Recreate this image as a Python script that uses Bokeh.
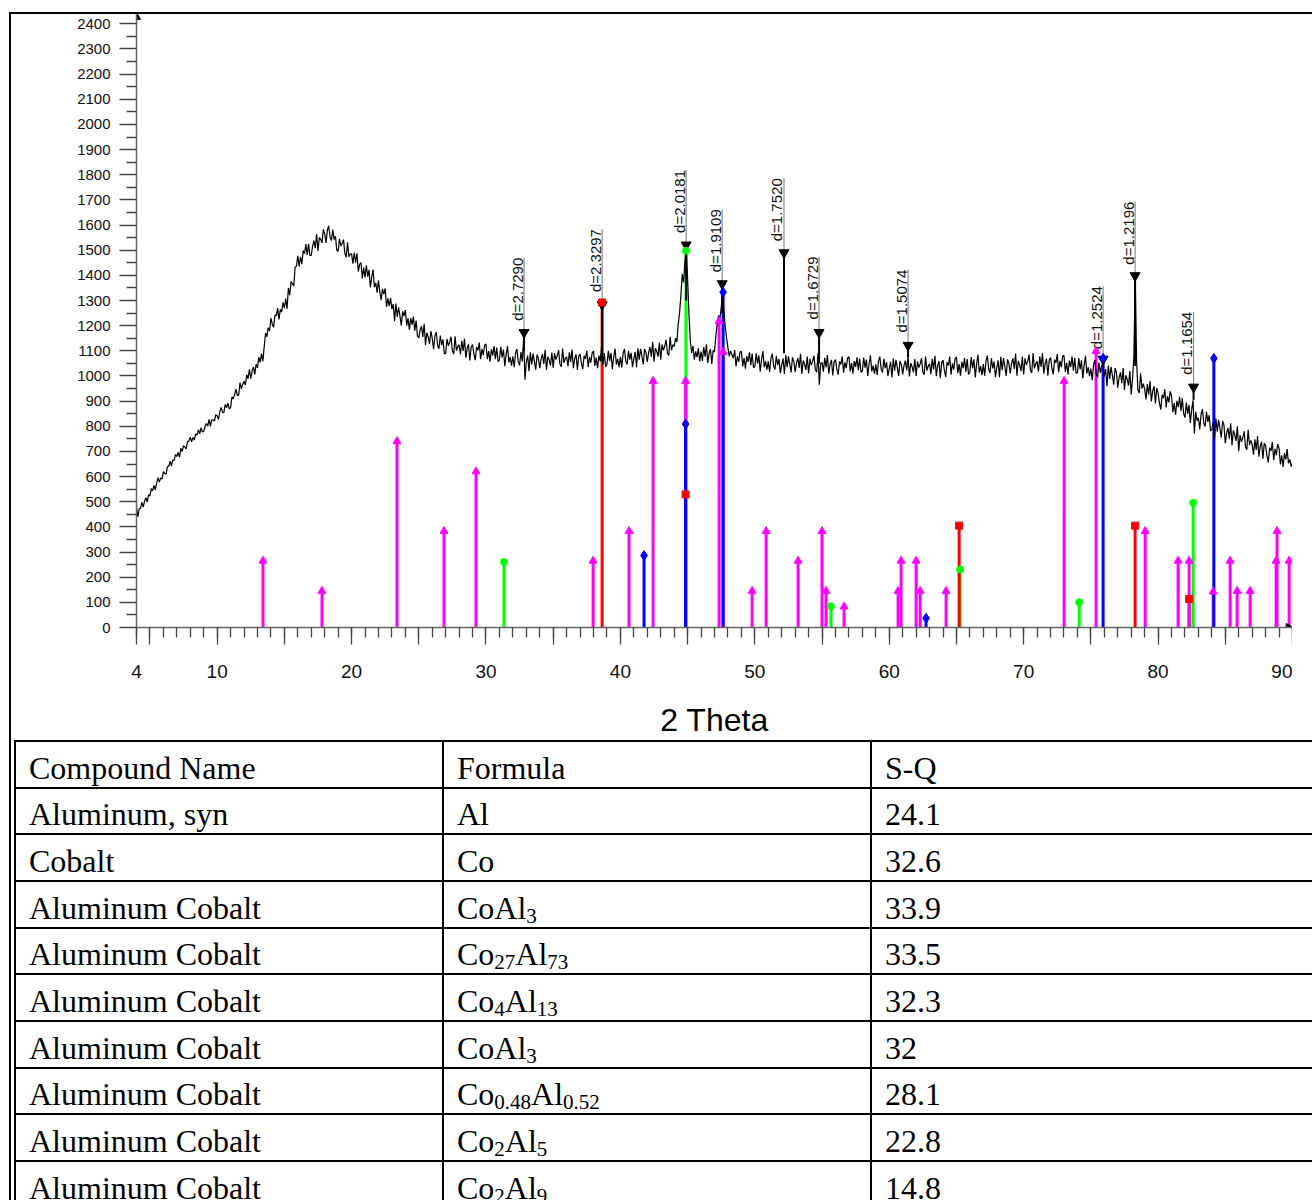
import numpy as np
from bokeh.plotting import figure
from bokeh.models import (Range1d, FixedTicker, CustomJSTickFormatter, ColumnDataSource,
                          Div, InlineStyleSheet)
from bokeh.layouts import column
from bokeh.embed import file_html
from bokeh.resources import INLINE
from bokeh.core.properties import value

# ---------------- data ----------------
scan_start = 4.0
scan_step = 0.1
counts = [
    478, 440, 472, 474, 498, 479, 502, 516, 499, 528,
    523, 552, 544, 565, 547, 574, 596, 578, 595, 590,
    620, 612, 610, 639, 641, 661, 642, 666, 664, 687,
    680, 696, 677, 713, 700, 723, 717, 710, 740, 740,
    757, 738, 756, 745, 770, 765, 786, 770, 794, 777,
    780, 800, 811, 801, 827, 800, 826, 825, 821, 846,
    842, 827, 859, 875, 855, 854, 887, 874, 892, 869,
    874, 917, 909, 926, 948, 923, 923, 974, 949, 966,
    979, 964, 1005, 989, 1026, 989, 1019, 1036, 1006, 1047,
    1032, 1075, 1054, 1089, 1058, 1117, 1171, 1156, 1192, 1179,
    1230, 1206, 1194, 1242, 1239, 1270, 1225, 1265, 1254, 1293,
    1270, 1308, 1267, 1350, 1321, 1375, 1367, 1358, 1432, 1436,
    1478, 1435, 1474, 1445, 1499, 1486, 1524, 1481, 1525, 1479,
    1479, 1516, 1538, 1508, 1564, 1497, 1550, 1544, 1529, 1583,
    1567, 1529, 1580, 1597, 1552, 1538, 1582, 1542, 1556, 1500,
    1496, 1545, 1517, 1527, 1542, 1488, 1472, 1531, 1474, 1485,
    1486, 1446, 1490, 1450, 1488, 1415, 1443, 1451, 1388, 1431,
    1392, 1440, 1395, 1422, 1352, 1395, 1423, 1353, 1370, 1331,
    1380, 1334, 1302, 1346, 1325, 1348, 1275, 1309, 1278, 1311,
    1266, 1286, 1219, 1288, 1235, 1273, 1238, 1201, 1257, 1238,
    1262, 1200, 1229, 1184, 1230, 1204, 1236, 1180, 1220, 1160,
    1151, 1183, 1198, 1155, 1207, 1123, 1172, 1155, 1128, 1178,
    1150, 1106, 1159, 1175, 1123, 1108, 1161, 1123, 1145, 1088,
    1090, 1147, 1120, 1134, 1156, 1099, 1087, 1158, 1101, 1117,
    1124, 1086, 1140, 1100, 1148, 1073, 1110, 1126, 1062, 1116,
    1125, 1087, 1063, 1115, 1102, 1133, 1067, 1107, 1083, 1122,
    1127, 1067, 1099, 1057, 1106, 1082, 1119, 1067, 1113, 1057,
    1064, 1116, 1074, 1105, 1039, 1086, 1119, 1054, 1075, 1041,
    1078, 1035, 1090, 1107, 1056, 1042, 1095, 1058, 1150, 985,
    1056, 1081, 1019, 1094, 1046, 1089, 1058, 1025, 1085, 1070,
    1031, 1067, 1087, 1048, 1104, 1024, 1077, 1063, 1041, 1093,
    1033, 1091, 1065, 1080, 1103, 1048, 1037, 1109, 1052, 1070,
    1076, 1039, 1094, 1056, 1105, 1031, 1069, 1086, 1024, 1079,
    1087, 1050, 1027, 1080, 1068, 1100, 1035, 1076, 1053, 1093,
    1099, 1040, 1073, 1031, 1081, 1058, 1120, 1045, 1091, 1036,
    1047, 1100, 1060, 1092, 1027, 1075, 1109, 1045, 1068, 1035,
    1076, 1034, 1090, 1108, 1058, 1046, 1100, 1065, 1092, 1035,
    1069, 1096, 1035, 1110, 1065, 1108, 1078, 1046, 1107, 1093,
    1056, 1094, 1115, 1077, 1135, 1057, 1110, 1098, 1077, 1132,
    1065, 1125, 1102, 1119, 1144, 1090, 1082, 1156, 1102, 1124,
    1118, 1150, 1135, 1205, 1250, 1320, 1405, 1372, 1460, 1500,
    1385, 1245, 1140, 1092, 1120, 1065, 1098, 1075, 1110, 1058,
    1097, 1060, 1115, 1077, 1126, 1052, 1090, 1107, 1048, 1102,
    1095, 1160, 1205, 1240, 1228, 1272, 1318, 1255, 1195, 1150,
    1112, 1078, 1100, 1083, 1071, 1103, 1038, 1079, 1056, 1096,
    1097, 1038, 1071, 1029, 1079, 1056, 1094, 1043, 1089, 1034,
    1037, 1090, 1050, 1082, 1017, 1065, 1099, 1035, 1058, 1025,
    1058, 1016, 1071, 1089, 1039, 1026, 1080, 1043, 1067, 1011,
    1044, 1070, 1008, 1083, 1035, 1078, 1047, 1014, 1074, 1059,
    1016, 1052, 1071, 1032, 1088, 1008, 1061, 1047, 1024, 1077,
    1010, 1068, 1043, 1058, 1081, 1026, 1015, 1090, 965, 1049,
    1054, 1017, 1072, 1034, 1083, 1009, 1047, 1064, 1002, 1057,
    1065, 1028, 1005, 1058, 1046, 1078, 1013, 1054, 1031, 1071,
    1077, 1018, 1051, 1009, 1059, 1036, 1074, 1023, 1069, 1014,
    1020, 1073, 1033, 1065, 1000, 1048, 1082, 1018, 1041, 1008,
    1046, 1004, 1059, 1077, 1027, 1014, 1068, 1031, 1055, 999,
    1030, 1056, 994, 1069, 1021, 1064, 1033, 1000, 1060, 1045,
    1006, 1042, 1061, 1022, 1078, 998, 1051, 1037, 1014, 1067,
    1000, 1058, 1033, 1048, 1071, 1016, 1005, 1077, 1021, 1039,
    1048, 1007, 1068, 1026, 1080, 999, 1041, 1059, 991, 1052,
    1063, 1022, 996, 1055, 1042, 1077, 1005, 1050, 1025, 1069,
    1076, 1011, 1047, 1001, 1056, 1031, 1072, 1016, 1067, 1006,
    1016, 1075, 1030, 1066, 994, 1047, 1084, 1014, 1039, 1003,
    1047, 1001, 1061, 1081, 1026, 1012, 1071, 1030, 1057, 995,
    1033, 1062, 994, 1076, 1023, 1071, 1037, 1000, 1066, 1050,
    1010, 1050, 1071, 1028, 1089, 1001, 1060, 1044, 1019, 1077,
    1006, 1070, 1043, 1059, 1085, 1024, 1012, 1091, 1030, 1049,
    1058, 1017, 1078, 1036, 1090, 1009, 1051, 1069, 1001, 1062,
    1073, 1032, 1006, 1065, 1052, 1087, 1015, 1060, 1035, 1079,
    1081, 1016, 1052, 1006, 1061, 1036, 1077, 1021, 1072, 1011,
    1012, 1071, 1026, 1062, 990, 1043, 1080, 1010, 1035, 999,
    1029, 983, 1043, 1063, 1008, 994, 1053, 1012, 1039, 1045,
    998, 1027, 959, 1041, 988, 1036, 1002, 965, 1031, 1015,
    953, 993, 1014, 971, 1032, 944, 1003, 987, 962, 1020,
    926, 990, 1080, 1390, 1060, 944, 932, 1011, 950, 969,
    948, 907, 968, 926, 980, 899, 941, 959, 891, 952,
    933, 892, 866, 925, 912, 947, 875, 920, 895, 939,
    921, 856, 892, 846, 901, 876, 917, 861, 912, 851,
    835, 894, 849, 885, 813, 866, 903, 770, 858, 822,
    834, 788, 848, 868, 813, 799, 858, 817, 844, 782,
    788, 817, 749, 831, 778, 826, 792, 755, 821, 805,
    733, 773, 794, 751, 812, 724, 783, 767, 742, 800,
    701, 765, 738, 754, 780, 719, 707, 786, 725, 744,
    728, 687, 748, 706, 760, 679, 721, 739, 671, 732,
    723, 682, 656, 715, 702, 737, 665, 710, 685, 729,
    713, 648, 684, 638, 693, 668, 709, 653, 668, 640,
    655,
]

# reference pattern sticks (2-theta, intensity)
magenta_theta = [13.41, 17.80, 23.38, 26.88, 29.26, 37.97, 40.64, 42.43, 44.85, 47.34,
                 47.64, 49.80, 50.84, 53.22, 55.00, 55.30, 56.64, 60.66, 60.88, 62.00,
                 62.30, 64.23, 73.01, 75.39, 79.04, 81.49, 82.31, 84.10, 85.36, 85.88,
                 86.85, 88.78, 88.85, 89.75]
magenta_int = [265, 145, 740, 383, 620, 265, 383, 980, 980, 1218,
               1095, 145, 383, 265, 383, 145, 83, 145, 265, 265,
               145, 145, 980, 1099, 383, 265, 265, 142, 265, 145,
               145, 265, 383, 265]
red_theta = [38.64, 44.85, 65.20, 78.29, 82.31]
red_int = [1292, 529, 405, 405, 113]
green_theta = [31.34, 44.88, 55.67, 65.27, 74.13, 82.61]
green_int = [260, 1498, 84, 231, 100, 496]
blue_theta = [41.76, 44.85, 47.64, 62.74, 75.91, 84.15]
blue_int = [286, 809, 1333, 37, 1070, 1070]

# peak-search labels
d_labels = ["d=2.7290", "d=2.3297", "d=2.0181", "d=1.9109", "d=1.7520",
            "d=1.6729", "d=1.5074", "d=1.2524", "d=1.2196", "d=1.1654"]
d_theta = [32.83, 38.64, 44.89, 47.57, 52.17, 54.78, 61.40, 75.91, 78.29, 82.64]
d_top = [1470, 1584, 1819, 1663, 1786, 1475, 1423, 1357, 1693, 1255]
d_peak = [1173, 1284, 1521, 1367, 1490, 1173, 1122, 1067, 1399, 956]
d_base = [1100, 1060, 1300, 1250, 1090, 1050, 1075, 1040, 1040, 905]

x_major_ticks = [4, 5, 10, 15, 20, 25, 30, 35, 40, 45, 50, 55, 60, 65, 70, 75, 80, 85, 90]
x_minor_ticks = list(range(4, 91))
y_major_ticks = list(range(0, 2401, 100))
y_minor_ticks = list(range(50, 2400, 100))

table_header = ["Compound Name", "Formula", "S-Q"]
compound_names = ["Aluminum, syn", "Cobalt", "Aluminum Cobalt", "Aluminum Cobalt",
                  "Aluminum Cobalt", "Aluminum Cobalt", "Aluminum Cobalt",
                  "Aluminum Cobalt", "Aluminum Cobalt"]
formulas = ["Al", "Co", "CoAl<sub>3</sub>", "Co<sub>27</sub>Al<sub>73</sub>",
            "Co<sub>4</sub>Al<sub>13</sub>", "CoAl<sub>3</sub>",
            "Co<sub>0.48</sub>Al<sub>0.52</sub>", "Co<sub>2</sub>Al<sub>5</sub>",
            "Co<sub>2</sub>Al<sub>9</sub>"]
sq_values = ["24.1", "32.6", "33.9", "33.5", "32.3", "32", "28.1", "22.8", "14.8"]

# ---------------- figure ----------------
x_start, x_end = 4, 90
y_start, y_end = 0, 2441
SANS = "Liberation Sans"

p = figure(width=1292, height=740, x_range=Range1d(x_start, x_end),
           y_range=Range1d(y_start, y_end), output_backend="svg",
           toolbar_location=None, min_border_left=136, min_border_right=0,
           min_border_top=13, min_border_bottom=111, margin=0)
p.outline_line_color = None
p.grid.visible = False
p.background_fill_color = "white"
p.border_fill_color = "white"

xa = p.xaxis[0]
xa.ticker = FixedTicker(ticks=x_major_ticks, minor_ticks=x_minor_ticks)
xa.formatter = CustomJSTickFormatter(
    code="return (tick % 10 === 0 || tick === 4) ? String(tick) : '';")
xa.major_tick_out = 17
xa.major_tick_in = 0
xa.minor_tick_out = 10
xa.minor_tick_in = 0
xa.major_label_text_font = SANS
xa.major_label_text_font_size = "19px"
xa.major_label_text_color = "#111"
xa.major_label_standoff = 20
xa.axis_label = "2 Theta"
xa.axis_label_text_font = SANS
xa.axis_label_text_font_size = "32px"
xa.axis_label_text_font_style = "normal"
xa.axis_label_text_color = "#000"
xa.axis_label_standoff = 21

ya = p.yaxis[0]
ya.ticker = FixedTicker(ticks=y_major_ticks, minor_ticks=y_minor_ticks)
ya.major_tick_out = 17
ya.major_tick_in = 0
ya.minor_tick_out = 10
ya.minor_tick_in = 0
ya.major_label_text_font = SANS
ya.major_label_text_font_size = "15px"
ya.major_label_text_color = "#111"
ya.major_label_standoff = 9

for ax in (xa, ya):
    ax.axis_line_color = "#666"
    ax.axis_line_width = 1.5
    ax.major_tick_line_color = "#444"
    ax.minor_tick_line_color = "#444"
    ax.major_tick_line_width = 1.3
    ax.minor_tick_line_width = 1.3

# sticks (lines)
phases = [
    (green_theta, green_int, "#00FF00", "circle", 7),
    (red_theta, red_int, "#FF0000", "square", 7),
    (magenta_theta, magenta_int, "#FF00FF", "triangle", 8),
    (blue_theta, blue_int, "#0000FF", "diamond", 10),
]
for th, it, col, mk, sz in phases:
    src = ColumnDataSource(dict(x=th, y0=[0] * len(th), y1=it))
    p.segment(x0="x", y0="y0", x1="x", y1="y1", source=src, line_color=col, line_width=3)

# measured scan
theta = scan_start + scan_step * np.arange(len(counts))
p.line(theta, counts, line_color="black", line_width=1.2)

# peak markers
dsrc = ColumnDataSource(dict(x=d_theta, top=d_top, peak=d_peak, base=d_base, label=d_labels))
p.segment(x0="x", y0="peak", x1="x", y1="top", source=dsrc, line_color="#777", line_width=1)
p.segment(x0="x", y0="base", x1="x", y1="peak", source=dsrc, line_color="#000", line_width=2)
p.scatter(x="x", y="peak", source=dsrc, marker="inverted_triangle", size=10,
          fill_color="black", line_color="black")
p.text(x="x", y="top", text="label", source=dsrc, angle=np.pi / 2,
       text_align="right", text_baseline="middle", x_offset=-7,
       text_font=value(SANS), text_font_size="15px", text_color="#111")

# stick markers on top
for th, it, col, mk, sz in phases:
    p.scatter(x=th, y=it, marker=mk, size=sz, fill_color=col, line_color=col)

# axis arrow heads (half clipped like the original)
p.scatter(x=[x_start], y=[y_end - 14], marker="triangle", size=8,
          fill_color="black", line_color="black")
p.scatter(x=[x_end - 0.3], y=[y_start], marker="triangle", angle=-np.pi / 2, size=8,
          fill_color="black", line_color="black")

# ---------------- table ----------------
row_h = 46.67
col_x = [15, 443, 871]
rows = [table_header] + [[n, f, s] for n, f, s in zip(compound_names, formulas, sq_values)]
SUB = '<span style="font-size:21px;position:relative;top:4px;">'
parts = ['<div style="position:relative;width:1312px;height:460px;overflow:hidden;'
         'background:#fff;font-family:\'Liberation Serif\',\'Times New Roman\',serif;'
         'font-size:32px;color:#000;">']
for i in range(len(rows) + 1):
    parts.append(f'<div style="position:absolute;left:{col_x[0] - 1}px;width:1400px;'
                 f'top:{i * row_h:.2f}px;height:2px;background:#000;"></div>')
for cx in col_x:
    parts.append(f'<div style="position:absolute;left:{cx - 1}px;top:0px;width:2px;'
                 f'height:470px;background:#000;"></div>')
for i, r in enumerate(rows):
    for cx, txt in zip(col_x, r):
        html = txt.replace("<sub>", SUB).replace("</sub>", "</span>")
        parts.append(f'<div style="position:absolute;left:{cx + 14}px;top:{i * row_h + 11.5:.2f}px;'
                     f'line-height:32px;white-space:nowrap;">{html}</div>')
parts.append('</div>')
div = Div(text="".join(parts), width=1312, height=460, margin=0)

frame_css = InlineStyleSheet(css="""
:host { position: relative; }
:host::after { content: ""; position: absolute; left: 9px; top: 12px; right: 0; bottom: 0;
  border-left: 2px solid #000; border-top: 2px solid #000; pointer-events: none; z-index: 20; }
""")
layout = column(p, div, spacing=0, margin=0, stylesheets=[frame_css])

with open("out.html", "w") as f:
    f.write(file_html(layout, INLINE))
